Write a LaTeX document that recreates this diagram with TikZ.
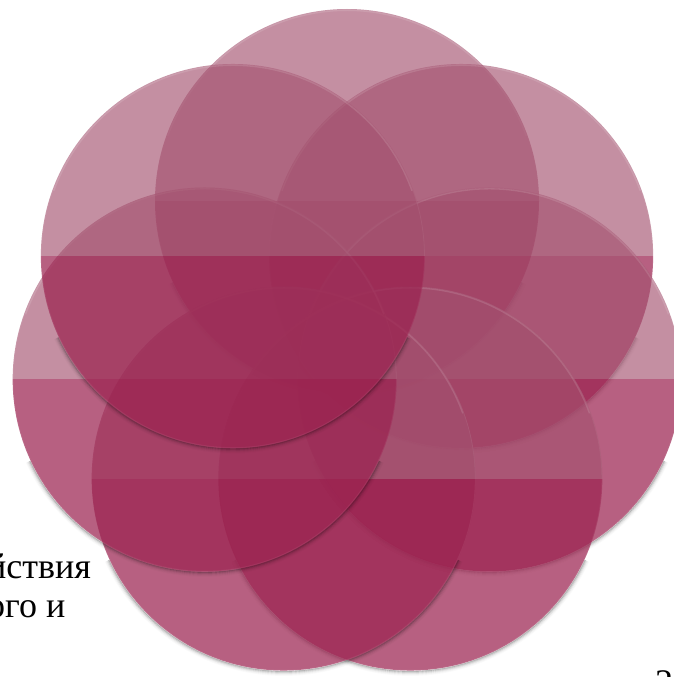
\documentclass[tikz,border=0pt]{standalone}
\usepackage{fontspec}
\setmainfont{Liberation Serif}
\definecolor{petaltop}{RGB}{163,80,110}
\definecolor{petalbot}{RGB}{155,35,80}
\tikzset{
  petaltopfill/.style={fill=petaltop, fill opacity=0.64},
  petalbotfill/.style={fill=petalbot, fill opacity=0.72},
  petalrim/.style={draw=white, draw opacity=0.12, line width=1.3pt},
  petaledge/.style={draw=white, draw opacity=0.06, line width=0.8pt},
  pagetext/.style={font=\fontsize{36}{40}\selectfont, text=black, inner sep=0pt},
}
\begin{document}
\begin{tikzpicture}[x=1pt,y=1pt]
\useasboundingbox (0,0) rectangle (674,-677);
\clip (0,0) rectangle (674,-677);
\node[pagetext, anchor=base west] (line1) at (-13,-578) {йствия};
\node[pagetext, anchor=base west] (line2) at (-13,-617) {ого и};
\node[pagetext, anchor=base west] (pagenum) at (655,-694) {2};
\begin{scope}[shift={(347,-347)}]
\foreach \k in {0,...,6}{
  \pgfmathsetmacro\ang{90-\k*360/7}
  \coordinate (c\k) at (\ang:146);
  \foreach \dr/\op in {0.8/0.26,1.8/0.16,2.8/0.09,3.8/0.045,4.8/0.02}{
    \pgfmathsetmacro\rr{192+\dr}
    \draw[black, draw opacity=\op, line width=1.1pt] (c\k) ++(205:\rr) arc[start angle=205,end angle=335,radius=\rr];
  }
  \begin{scope}
    \clip (c\k) circle[radius=192];
    \fill[petaltopfill] (c\k) ++(-200,0) rectangle ++(400,200);
    \fill[petalbotfill] (c\k) ++(-200,0) rectangle ++(400,-200);
  \end{scope}
  \path[petaledge] (c\k) circle[radius=191.6];
  \path[petalrim] (c\k) ++(20:190.6) arc[start angle=20,end angle=160,radius=190.6];
}
\end{scope}
\end{tikzpicture}
\end{document}
